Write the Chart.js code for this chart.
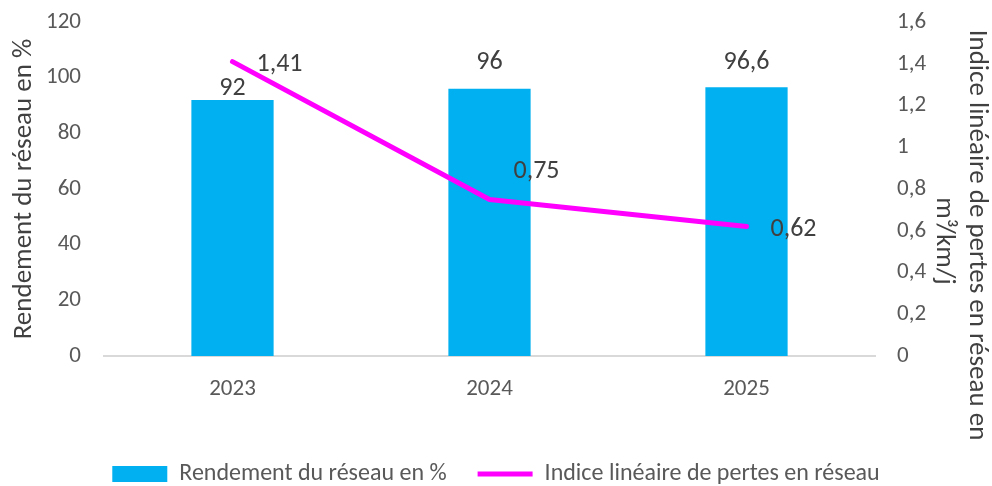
<!DOCTYPE html>
<html>
<head>
<meta charset="utf-8">
<script src="https://cdn.jsdelivr.net/npm/chart.js@4.4.1/dist/chart.umd.min.js"></script>
<style>
    html, body { margin: 0; padding: 0; background: #ffffff; }
    #wrap { width: 992px; height: 486px; }
</style>
</head>
<body>
<div id="wrap"><canvas id="chartRendement"></canvas></div>
<script>
// donnees
const years = ['2023', '2024', '2025'];
const rendementValues = [92, 96, 96.6];
const indiceValues = [1.41, 0.75, 0.62];
const rendementLabel = 'Rendement du réseau en %';
const indiceLabel = 'Indice linéaire de pertes en réseau';
const leftTitle = 'Rendement du réseau en %';
const rightTitle = ['Indice linéaire de pertes en réseau en', 'm³/km/j'];

const fontFamily = 'Calibri, Carlito, "Open Sans", sans-serif';

function frNumber(v) {
    return (Math.round(v * 100) / 100).toString().replace('.', ',');
}

const legendMargin = {
    id: 'legendMargin',
    beforeInit: function (chart) {
        const fitValue = chart.legend.fit;
        chart.legend.fit = function fit() {
            fitValue.bind(chart.legend)();
            this.height = 55;
        }
    }
};

// etiquettes de donnees + titre de l'axe droit
const valueLabels = {
    id: 'valueLabels',
    afterDatasetsDraw: function (chart, args, options) {
        const ctx = chart.ctx;
        ctx.save();
        ctx.font = '26px ' + fontFamily;
        ctx.fillStyle = '#404040';
        ctx.textBaseline = 'middle';

        // barres : au-dessus
        ctx.textAlign = 'center';
        chart.getDatasetMeta(0).data.forEach((bar, i) => {
            ctx.fillText(frNumber(chart.data.datasets[0].data[i]), bar.x, bar.y - options.barLift[i]);
        });

        // ligne : a droite
        ctx.textAlign = 'left';
        chart.getDatasetMeta(1).data.forEach((pt, i) => {
            ctx.fillText(frNumber(chart.data.datasets[1].data[i]), pt.x + 24, pt.y + options.lineShift[i]);
        });

        // titre axe droit, deux lignes
        ctx.font = '27px ' + fontFamily;
        ctx.textAlign = 'center';
        const cy = chart.chartArea.bottom - 121;
        rightTitle.forEach((line, i) => {
            ctx.save();
            ctx.translate(chart.width - 15 - i * 33, cy + i * 6);
            ctx.rotate(Math.PI / 2);
            ctx.fillText(line, 0, 0);
            ctx.restore();
        });
        ctx.restore();
    }
};

const ctx_rend = document.getElementById('chartRendement').getContext('2d');

new Chart(ctx_rend, {
    type: 'bar',
    data: {
        labels: years,
        datasets: [
            {
                label: rendementLabel,
                data: rendementValues,
                backgroundColor: '#00B0F0',
                borderWidth: 0,
                categoryPercentage: 1,
                barPercentage: 0.32,
                pointStyle: 'rect',
                yAxisID: 'y',
                order: 1
            },
            {
                label: indiceLabel,
                type: 'line',
                data: indiceValues,
                borderColor: '#FF00FF',
                backgroundColor: '#FF00FF',
                borderWidth: 5,
                borderCapStyle: 'round',
                borderJoinStyle: 'round',
                pointRadius: 0,
                pointStyle: 'line',
                tension: 0,
                yAxisID: 'y1',
                order: 0
            }
        ]
    },
    plugins: [legendMargin, valueLabels],
    options: {
        responsive: true,
        maintainAspectRatio: false,
        animation: false,
        layout: {
            padding: { top: 22, left: 0, right: 0, bottom: 0 }
        },
        plugins: {
            tooltip: { enabled: false },
            valueLabels: {
                barLift: [11, 26, 25],
                lineShift: [3, -28, 3]
            },
            legend: {
                display: true,
                position: 'bottom',
                align: 'center',
                labels: {
                    usePointStyle: true,
                    pointStyleWidth: 55,
                    boxHeight: 16,
                    padding: 31,
                    color: '#595959',
                    font: { family: fontFamily, size: 24 },
                    sort: (a, b) => a.datasetIndex - b.datasetIndex
                }
            }
        },
        scales: {
            x: {
                grid: { display: false },
                border: { display: true, color: '#D9D9D9', width: 2 },
                ticks: {
                    color: '#595959',
                    padding: 11,
                    font: { family: fontFamily, size: 23 }
                },
                afterFit: function (scale) { scale.height = 75; }
            },
            y: {
                position: 'left',
                min: 0,
                max: 120,
                grid: { display: false },
                border: { display: false },
                ticks: {
                    stepSize: 20,
                    color: '#595959',
                    padding: 15,
                    font: { family: fontFamily, size: 23 }
                },
                title: {
                    display: true,
                    text: leftTitle,
                    color: '#404040',
                    padding: { top: 8, bottom: 0 },
                    font: { family: fontFamily, size: 27 }
                },
                afterFit: function (scale) { scale.width = 104; scale.paddingTop = 0; }
            },
            y1: {
                position: 'right',
                min: 0,
                max: 1.6,
                grid: { display: false },
                border: { display: false },
                ticks: {
                    stepSize: 0.2,
                    color: '#595959',
                    padding: 14,
                    font: { family: fontFamily, size: 23 },
                    callback: function (value) { return frNumber(value); }
                },
                afterFit: function (scale) { scale.width = 117; scale.paddingTop = 0; }
            }
        }
    }
});
</script>
</body>
</html>
